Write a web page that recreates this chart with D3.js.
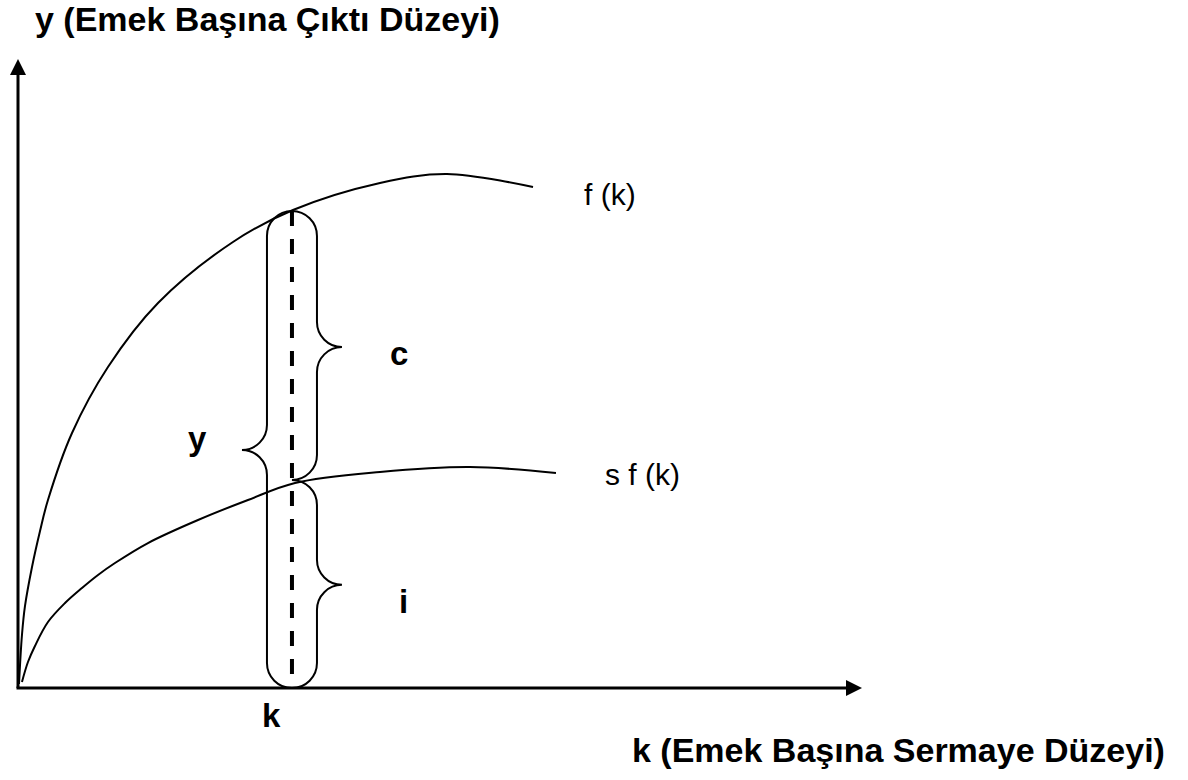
<!DOCTYPE html>
<html>
<head>
<meta charset="utf-8">
<script src="https://cdn.jsdelivr.net/npm/d3@7"></script>
<style>
  body { margin: 0; background: #fff; }
  text { font-family: "Liberation Sans", Arial, sans-serif; fill: #000; }
</style>
</head>
<body>
<div id="chart"></div>
<script>
// production function f(k) (k and y on a 0-100 scale)
var fkK = [0.12, 0.47, 0.83, 1.66, 2.61, 3.55, 6.40, 10.66, 16.59, 25.47, 32.58, 42.89, 50.83, 61.02];
var fkY = [0.64, 8.43, 13.04, 19.24, 24.96, 29.89, 40.54, 51.03, 61.21, 70.91, 75.99, 80.29, 81.72, 79.65];

// savings curve s f(k)
var sfK = [0.47, 1.18, 2.01, 3.55, 5.57, 7.58, 9.48, 11.49, 15.40, 21.33, 27.25, 32.82, 42.89, 53.55, 63.74];
var sfY = [0.95, 4.13, 6.68, 10.49, 13.51, 15.90, 17.97, 19.87, 23.05, 26.71, 29.89, 32.59, 34.34, 35.14, 34.18];

var curveLabels = ["f (k)", "s f (k)"];

// chosen capital level k and the levels it splits
var kStar = 32.46;
var yStar = 75.84;   // f(k)
var iStar = 33.07;   // s f(k)

// braces: y = c + i
var braceLabels = ["y", "c", "i"];
var braceFrom = [0, iStar, 0];
var braceTo = [yStar, yStar, iStar];
var braceTip = [37.84, 54.2, 16.4];
var braceSide = [-1, 1, 1];

var axisLabels = ["y (Emek Başına Çıktı Düzeyi)", "k (Emek Başına Sermaye Düzeyi)", "k"];

var W = 1188, H = 780;

var svg = d3.select("#chart")
  .append("svg")
    .attr("width", W)
    .attr("height", H);

var x = d3.scaleLinear().domain([0, 100]).range([18, 862]);
var y = d3.scaleLinear().domain([0, 100]).range([688, 59]);

// axes with arrow heads
svg.append("line")
  .attr("x1", x(0)).attr("y1", y(0))
  .attr("x2", x(0)).attr("y2", y(100) + 15)
  .attr("stroke", "#000").attr("stroke-width", 3);
svg.append("path")
  .attr("d", "M" + x(0) + "," + y(100) + "L" + (x(0) - 8) + "," + (y(100) + 16) + "L" + (x(0) + 8) + "," + (y(100) + 16) + "Z")
  .attr("fill", "#000");

svg.append("line")
  .attr("x1", x(0) - 1.5).attr("y1", y(0))
  .attr("x2", x(100) - 15).attr("y2", y(0))
  .attr("stroke", "#000").attr("stroke-width", 3);
svg.append("path")
  .attr("d", "M" + x(100) + "," + y(0) + "L" + (x(100) - 16) + "," + (y(0) - 8) + "L" + (x(100) - 16) + "," + (y(0) + 8) + "Z")
  .attr("fill", "#000");

// curves
var line = d3.line()
  .x(function(d) { return x(d[0]); })
  .y(function(d) { return y(d[1]); })
  .curve(d3.curveCatmullRom.alpha(0.5));

var fk = d3.zip(fkK, fkY);
var sf = d3.zip(sfK, sfY);

svg.selectAll(".curve")
  .data([fk, sf])
  .enter()
  .append("path")
    .attr("class", "curve")
    .attr("d", line)
    .attr("fill", "none")
    .attr("stroke", "#000")
    .attr("stroke-width", 2);

svg.selectAll(".curveLabel")
  .data([fk, sf])
  .enter()
  .append("text")
    .attr("class", "curveLabel")
    .attr("x", function(d, i) { return x(d[d.length - 1][0]) + (i == 0 ? 51 : 49); })
    .attr("y", function(d, i) { return y(d[d.length - 1][1]) + (i == 0 ? 18 : 12); })
    .attr("font-size", 30)
    .text(function(d, i) { return curveLabels[i]; });

// dashed line at k
svg.append("line")
  .attr("x1", x(kStar)).attr("y1", y(yStar))
  .attr("x2", x(kStar)).attr("y2", y(0))
  .attr("stroke", "#000")
  .attr("stroke-width", 4)
  .attr("stroke-dasharray", "15,13");

// braces
var r = 25, kk = 0.552;
function bracePath(i) {
  var d = braceSide[i];
  var x0 = x(kStar), xs = x0 + d * r, xt = x0 + 2 * d * r;
  var y0 = y(braceTo[i]), y1 = y(braceFrom[i]), ym = y(braceTip[i]);
  return "M" + x0 + "," + y0 +
    "C" + (x0 + d * kk * r) + "," + y0 + " " + xs + "," + (y0 + r - kk * r) + " " + xs + "," + (y0 + r) +
    "L" + xs + "," + (ym - r) +
    "C" + xs + "," + (ym - r + kk * r) + " " + (xt - d * kk * r) + "," + ym + " " + xt + "," + ym +
    "C" + (xt - d * kk * r) + "," + ym + " " + xs + "," + (ym + r - kk * r) + " " + xs + "," + (ym + r) +
    "L" + xs + "," + (y1 - r) +
    "C" + xs + "," + (y1 - r + kk * r) + " " + (x0 + d * kk * r) + "," + y1 + " " + x0 + "," + y1;
}

svg.selectAll(".brace")
  .data(braceLabels)
  .enter()
  .append("path")
    .attr("class", "brace")
    .attr("d", function(d, i) { return bracePath(i); })
    .attr("fill", "none")
    .attr("stroke", "#000")
    .attr("stroke-width", 2);

var braceLabelX = [-104, 98, 107];
var braceLabelDy = [0, 18, 28];
svg.selectAll(".braceLabel")
  .data(braceLabels)
  .enter()
  .append("text")
    .attr("class", "braceLabel")
    .attr("x", function(d, i) { return x(kStar) + braceLabelX[i]; })
    .attr("y", function(d, i) { return y(braceTip[i]) + braceLabelDy[i]; })
    .attr("font-size", 33)
    .attr("font-weight", "bold")
    .text(function(d) { return d; });

// axis titles
svg.append("text")
  .attr("x", 35).attr("y", 31)
  .attr("font-size", 34).attr("font-weight", "bold")
  .text(axisLabels[0]);
svg.append("text")
  .attr("x", 632).attr("y", 762)
  .attr("font-size", 34).attr("font-weight", "bold")
  .text(axisLabels[1]);
svg.append("text")
  .attr("x", x(kStar) - 30).attr("y", 727)
  .attr("font-size", 33).attr("font-weight", "bold")
  .text(axisLabels[2]);
</script>
</body>
</html>
